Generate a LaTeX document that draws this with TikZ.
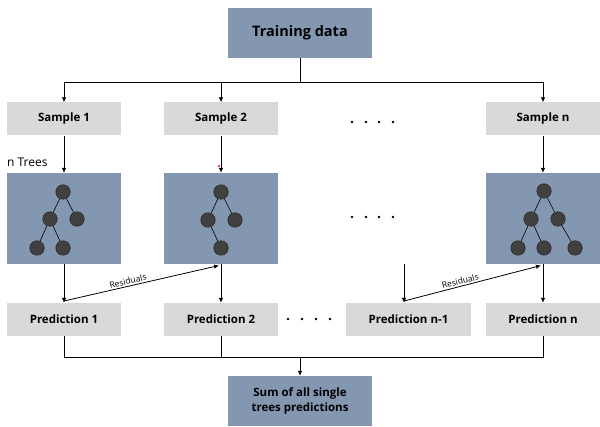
\documentclass[tikz,border=0pt]{standalone}
\usepackage{fontspec}
\setmainfont{Open Sans}
\usetikzlibrary{arrows.meta}
\definecolor{bluegray}{HTML}{8497B0}
\definecolor{lightbox}{HTML}{D9D9D9}
\definecolor{treenode}{HTML}{404040}
\begin{document}
\begin{tikzpicture}[x=1pt,y=-1pt,
  bigbox/.style={fill=bluegray,draw=none,minimum width=144pt,minimum height=50pt,inner sep=0pt,align=center,font=\bfseries\fontsize{11.5}{15}\selectfont},
  smallbox/.style={fill=lightbox,draw=none,minimum width=114pt,minimum height=33pt,inner sep=0pt,font=\bfseries\fontsize{11.5}{13}\selectfont},
  treebox/.style={fill=bluegray,draw=none,minimum width=114pt,minimum height=91pt,inner sep=0pt},
  tnode/.style={circle,fill=treenode,draw=black!85,line width=0.5pt,minimum size=14.5pt,inner sep=0pt},
  tedge/.style={line width=0.6pt,black},
  conn/.style={line width=0.8pt,black},
  arr/.style={conn,-{Latex[length=5pt,width=4.5pt]}},
  dotmark/.style={circle,fill=black,inner sep=0pt,minimum size=2.8pt}
]
\useasboundingbox (0,0) rectangle (600,427);
% top
\node[bigbox,font=\bfseries\fontsize{14.5}{16}\selectfont] (train) at (300,33) {Training data};
\node[smallbox] (s1) at (64,119) {Sample 1};
\node[smallbox] (s2) at (221,119) {Sample 2};
\node[smallbox] (sn) at (543,119) {Sample n};
\coordinate (hl) at (64,82);
\coordinate (hr) at (543,82);
\coordinate (hm) at (300,82);
\draw[conn] (train.south) -- (hm);
\draw[conn] (hl) -- (hr);
\draw[arr] (hl) -- (s1.north);
\draw[arr] (s2.north |- hl) -- (s2.north);
\draw[arr] (hr) -- (sn.north);
% dots
\foreach \i/\x in {1/352,2/366,3/379,4/393}{
  \node[dotmark] (da\i) at (\x,122) {};
  \node[dotmark] (db\i) at (\x,217) {};
}
\foreach \i/\x in {1/288,2/302,3/316,4/330}{
  \node[dotmark] (dc\i) at (\x,319) {};
}
\node[anchor=west,font=\fontsize{12}{14}\selectfont,inner sep=0pt] (ntrees) at (7,162) {n Trees};
% tree boxes
\node[treebox] (t1) at (64,218.5) {};
\node[treebox] (t2) at (221,218.5) {};
\node[treebox] (tn) at (543,218.5) {};
\draw[arr] (s1.south) -- (t1.north);
\draw[arr] (s2.south) -- (t2.north);
\draw[arr] (sn.south) -- (tn.north);
\node[circle,fill=red,inner sep=0pt,minimum size=2.4pt] (reddot) at (219,166) {};
% tree 1
\node[tnode] (a0) at (63,192) {};
\node[tnode] (a1) at (50,219) {};
\node[tnode] (a2) at (77,219) {};
\node[tnode] (a3) at (37,248) {};
\node[tnode] (a4) at (63,248) {};
\draw[tedge] (a0) -- (a1); \draw[tedge] (a0) -- (a2);
\draw[tedge] (a1) -- (a3); \draw[tedge] (a1) -- (a4);
% tree 2
\node[tnode] (b0) at (221,192) {};
\node[tnode] (b1) at (208,220) {};
\node[tnode] (b2) at (235,220) {};
\node[tnode] (b3) at (221,248) {};
\draw[tedge] (b0) -- (b1); \draw[tedge] (b0) -- (b2);
\draw[tedge] (b1) -- (b3);
% tree n
\node[tnode] (c0) at (544,191) {};
\node[tnode] (c1) at (531,219) {};
\node[tnode] (c2) at (558,219) {};
\node[tnode] (c3) at (518,248) {};
\node[tnode] (c4) at (544,248) {};
\node[tnode] (c5) at (575,248) {};
\draw[tedge] (c0) -- (c1); \draw[tedge] (c0) -- (c2);
\draw[tedge] (c1) -- (c3); \draw[tedge] (c1) -- (c4);
\draw[tedge] (c2) -- (c5);
% predictions
\node[smallbox] (p1) at (64,319.5) {Prediction 1};
\node[smallbox] (p2) at (221,319.5) {Prediction 2};
\node[smallbox,minimum width=125pt] (pn1) at (408.5,319.5) {Prediction n-1};
\node[smallbox] (pn) at (543,319.5) {Prediction n};
\draw[arr] (t1.south) -- (p1.north);
\draw[arr] (t2.south) -- (p2.north);
\draw[arr] (tn.south) -- (pn.north);
\coordinate (n1top) at (404,264);
\draw[arr] (n1top) -- (n1top |- pn1.north);
% residuals
\coordinate (r1s) at (64,301);
\coordinate (r1e) at (219,265.5);
\coordinate (r2s) at (404,301);
\coordinate (r2e) at (541,265.5);
\draw[arr] (r1s) -- node[sloped,above,pos=0.42,inner sep=1.5pt,font=\fontsize{8.5}{9}\selectfont] (res1) {Residuals} (r1e);
\draw[arr] (r2s) -- node[sloped,above,pos=0.42,inner sep=1.5pt,font=\fontsize{8.5}{9}\selectfont] (res2) {Residuals} (r2e);
% sum
\node[bigbox] (sum) at (300,401) {Sum of all single\\trees predictions};
\coordinate (bl) at (64,357);
\coordinate (br) at (543,357);
\coordinate (bm) at (300,357);
\draw[conn] (p1.south) -- (bl) -- (br) -- (pn.south);
\draw[conn] (p2.south) -- (p2.south |- bl);
\draw[arr] (bm) -- (sum.north);
\end{tikzpicture}
\end{document}
